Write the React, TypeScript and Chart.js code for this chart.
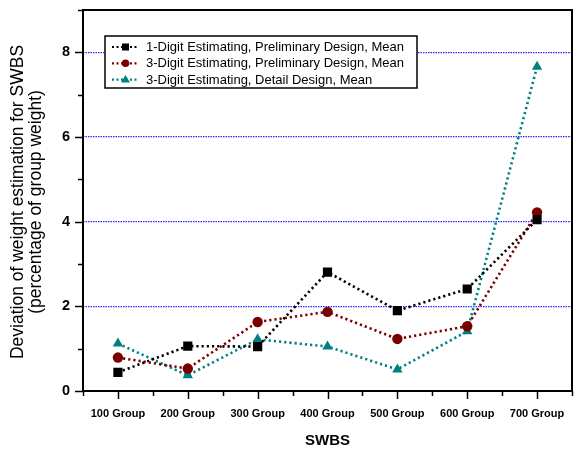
import React, { useEffect, useRef } from "react";
import { Chart, registerables } from "chart.js";

Chart.register(...registerables);

const categories = ["100 Group", "200 Group", "300 Group", "400 Group", "500 Group", "600 Group", "700 Group"];
const oneDigitPrelim = [0.44, 1.06, 1.05, 2.81, 1.9, 2.41, 4.05];
const threeDigitPrelim = [0.79, 0.53, 1.63, 1.87, 1.23, 1.53, 4.22];
const threeDigitDetail = [1.12, 0.37, 1.22, 1.05, 0.51, 1.41, 7.66];
const seriesNames = [
  "1-Digit Estimating, Preliminary Design, Mean",
  "3-Digit Estimating, Preliminary Design, Mean",
  "3-Digit Estimating, Detail Design, Mean",
];
const yTitleLines = ["Deviation of weight estimation for SWBS", "(percentage of group weight)"];
const xTitle = "SWBS";

const FONT = "'Liberation Sans', Arial, sans-serif";
const colors = ["#000000", "#7a0000", "#008080"];
const styles = ["rect", "circle", "triangle"];
const radii = [6.5, 5.2, 6];

const framePlugin = {
  id: "frameAndLegend",
  afterDatasetsDraw(chart: any) {
    const ctx = chart.ctx;
    const { left, right, top, bottom } = chart.chartArea;
    const xs = chart.scales.x;
    const ys = chart.scales.y;
    ctx.save();
    // frame
    ctx.strokeStyle = "#000";
    ctx.lineWidth = 2;
    ctx.strokeRect(left, top, right - left, bottom - top);
    // y ticks
    ctx.lineWidth = 1.5;
    for (let v = 0; v <= 9; v++) {
      const y = Math.round(ys.getPixelForValue(v)) + 0.5;
      const len = v % 2 === 0 ? 8 : 5;
      ctx.beginPath();
      ctx.moveTo(left - len, y);
      ctx.lineTo(left, y);
      ctx.stroke();
    }
    // x ticks
    const n = categories.length;
    for (let i = 0; i < n; i++) {
      const x = Math.round(xs.getPixelForValue(i)) + 0.5;
      ctx.beginPath();
      ctx.moveTo(x, bottom);
      ctx.lineTo(x, bottom + 8);
      ctx.stroke();
    }
    for (let i = 0; i <= n; i++) {
      const x = Math.round(xs.getPixelForValue(i - 0.5)) + 0.5;
      ctx.beginPath();
      ctx.moveTo(x, bottom);
      ctx.lineTo(x, bottom + 5);
      ctx.stroke();
    }
    // legend
    const lx = 105, ly = 36, lw = 312, lh = 52;
    ctx.fillStyle = "#fff";
    ctx.fillRect(lx, ly, lw, lh);
    ctx.strokeStyle = "#000";
    ctx.lineWidth = 1.5;
    ctx.strokeRect(lx, ly, lw, lh);
    ctx.font = `13px ${FONT}`;
    ctx.textBaseline = "middle";
    ctx.textAlign = "left";
    for (let i = 0; i < 3; i++) {
      const ry = ly + 11 + i * 16.3;
      ctx.strokeStyle = colors[i];
      ctx.lineWidth = 2.2;
      ctx.setLineDash([2, 2.5]);
      ctx.beginPath();
      ctx.moveTo(112, ry);
      ctx.lineTo(139, ry);
      ctx.stroke();
      ctx.setLineDash([]);
      ctx.fillStyle = colors[i];
      const cx = 125.5;
      if (i === 0) {
        ctx.fillRect(cx - 3.5, ry - 3.5, 7, 7);
      } else if (i === 1) {
        ctx.beginPath();
        ctx.arc(cx, ry, 3.8, 0, Math.PI * 2);
        ctx.fill();
      } else {
        ctx.beginPath();
        ctx.moveTo(cx, ry - 4.5);
        ctx.lineTo(cx + 4.5, ry + 3);
        ctx.lineTo(cx - 4.5, ry + 3);
        ctx.closePath();
        ctx.fill();
      }
      ctx.fillStyle = "#000";
      ctx.fillText(seriesNames[i], 146, ry + 0.5);
    }
    // axis titles
    ctx.fillStyle = "#000";
    ctx.textAlign = "center";
    ctx.font = `bold 15px ${FONT}`;
    ctx.fillText(xTitle, (left + right) / 2, 441);
    ctx.font = `17.5px ${FONT}`;
    ctx.save();
    ctx.translate(18, 202);
    ctx.rotate(-Math.PI / 2);
    ctx.fillText(yTitleLines[0], 0, 0);
    ctx.restore();
    ctx.save();
    ctx.translate(36, 202);
    ctx.rotate(-Math.PI / 2);
    ctx.fillText(yTitleLines[1], 0, 0);
    ctx.restore();
    ctx.restore();
  },
};

export default function App() {
  const ref = useRef<HTMLCanvasElement>(null);
  useEffect(() => {
    if (!ref.current) return;
    const datasets = [oneDigitPrelim, threeDigitPrelim, threeDigitDetail].map((d, i) => ({
      label: seriesNames[i],
      data: d,
      borderColor: colors[i],
      backgroundColor: colors[i],
      borderWidth: 2.6,
      borderDash: [2.2, 3],
      borderCapStyle: "butt" as const,
      pointStyle: styles[i] as any,
      pointRadius: radii[i],
      pointBackgroundColor: colors[i],
      pointBorderWidth: 0,
      tension: 0,
      fill: false,
    }));
    const chart = new Chart(ref.current, {
      type: "line",
      data: { labels: categories, datasets },
      options: {
        animation: false,
        responsive: false,
        devicePixelRatio: 1,
        layout: { padding: { left: 0, right: 10, top: 10, bottom: 0 } },
        plugins: { legend: { display: false }, tooltip: { enabled: false }, title: { display: false } },
        scales: {
          x: {
            type: "category",
            offset: true,
            grid: { display: false, drawTicks: false },
            border: { display: false },
            ticks: {
              color: "#000",
              font: { family: FONT, size: 11, weight: "bold" },
              padding: 16,
              maxRotation: 0,
              autoSkip: false,
            },
            afterFit(scale: any) {
              scale.height = 59;
              scale.paddingLeft = 0;
              scale.paddingRight = 0;
            },
          },
          y: {
            min: 0,
            max: 9,
            grid: {
              drawTicks: false,
              lineWidth: 1.2,
              color: (c: any) => {
                const v = c.tick && c.tick.value;
                return v > 0 && v < 9 && v % 2 === 0 ? "#2a2aff" : "rgba(0,0,0,0)";
              },
            },
            border: { display: false, dash: [1.5, 1] },
            ticks: {
              stepSize: 1,
              color: "#000",
              font: { family: FONT, size: 14.5, weight: "bold" },
              padding: 13,
              callback: (v: any) => (v % 2 === 0 && v < 9 ? String(v) : ""),
            },
            afterFit(scale: any) {
              scale.width = 83;
              scale.paddingTop = 0;
              scale.paddingBottom = 0;
            },
          },
        },
      },
      plugins: [framePlugin],
    });
    return () => chart.destroy();
  }, []);
  return (
    <div style={{ position: "fixed", left: 0, top: 0, width: 582, height: 450, background: "#fff" }}>
      <canvas ref={ref} width={582} height={450} style={{ width: 582, height: 450 }} />
    </div>
  );
}
